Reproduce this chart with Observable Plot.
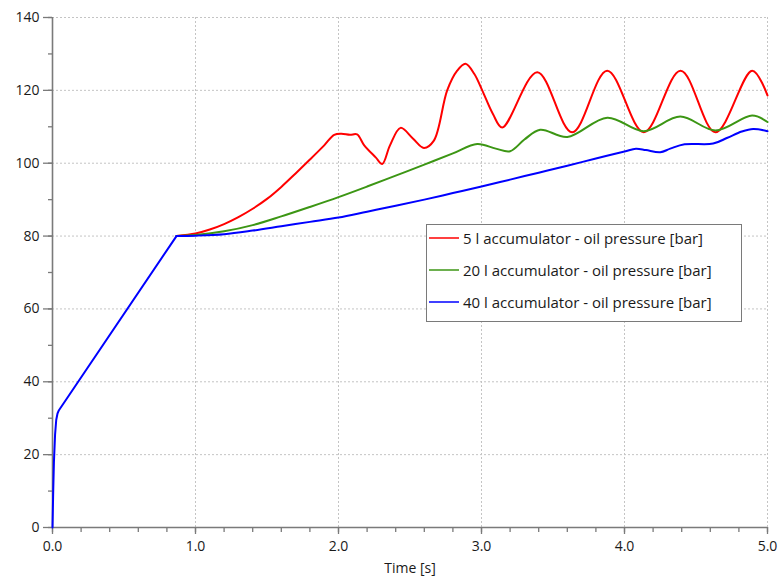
<!DOCTYPE html>
<html>
<head>
<meta charset="utf-8">
<script src="https://cdn.jsdelivr.net/npm/d3@7"></script>
<script src="https://cdn.jsdelivr.net/npm/@observablehq/plot@0.6"></script>
<style>
  html, body { margin: 0; padding: 0; background: #fff; }
  #wrap { position: relative; width: 778px; height: 582px; font-family: "Open Sans", sans-serif; }
  #legend { position: absolute; left: 426px; top: 224px; width: 316px; height: 98px; border: 1px solid #7a7a7a; background: #fff; box-sizing: border-box; }
  .item { position: absolute; left: 0; height: 22px; display: flex; align-items: center; font-size: 15px; color: #1a1a1a; white-space: nowrap; }
  .item svg { margin-left: 2px; margin-right: 4px; }
</style>
</head>
<body>
<div id="wrap"></div>
<script>
// Series labels and colors
const seriesNames = ["5 l accumulator - oil pressure [bar]", "20 l accumulator - oil pressure [bar]", "40 l accumulator - oil pressure [bar]"];
const seriesColors = ["#ff0000", "#3c9614", "#0000ff"];

// Common charging phase (all three accumulators)
const chargeT = [0, 0.005, 0.01, 0.018, 0.026, 0.035, 0.045, 0.867];
const chargeV = [0, 10, 18, 25.5, 29.5, 31.3, 32.2, 80];

// 5 l accumulator (after charging)
const redT = [0.867, 1.0, 1.1, 1.2, 1.3, 1.4, 1.5, 1.6, 1.7, 1.8, 1.9, 1.97, 2.02, 2.08, 2.13, 2.18, 2.26, 2.306, 2.36, 2.434, 2.52, 2.597, 2.667, 2.76, 2.83, 2.888, 2.95, 3.005, 3.08, 3.145, 3.39, 3.634, 3.879, 4.135, 4.392, 4.636, 4.893, 5.0];
const redV = [80, 80.7, 81.8, 83.3, 85.2, 87.5, 90.2, 93.5, 97.2, 101.0, 104.9, 107.8, 108.1, 107.8, 107.9, 104.9, 101.6, 99.8, 104.9, 109.7, 106.8, 104.2, 106.2, 120, 125.4, 127.3, 124.5, 120, 113.5, 109.8, 125.0, 108.5, 125.4, 108.5, 125.4, 108.5, 125.4, 118.6];

// 20 l accumulator (after charging)
const greenT = [0.867, 1.0, 1.2, 1.4, 1.6, 1.8, 2.0, 2.2, 2.4, 2.6, 2.8, 2.97, 3.1, 3.2, 3.3, 3.41, 3.6, 3.88, 4.135, 4.39, 4.636, 4.893, 5.0];
const greenV = [80, 80.3, 81.3, 83.0, 85.4, 88.0, 90.7, 93.6, 96.6, 99.6, 102.7, 105.3, 104.0, 103.3, 106.5, 109.2, 107.2, 112.5, 108.8, 112.8, 109.0, 113.1, 111.3];

// 40 l accumulator (after charging)
const blueT = [0.867, 1.0, 1.2, 1.4, 1.6, 1.8, 2.0, 2.2, 2.4, 2.6, 2.8, 3.0, 3.2, 3.4, 3.6, 3.8, 4.0, 4.08, 4.15, 4.25, 4.32, 4.42, 4.62, 4.72, 4.82, 4.9, 5.0];
const blueV = [80, 80.1, 80.5, 81.5, 82.7, 83.9, 85.1, 86.7, 88.3, 90.0, 91.8, 93.6, 95.5, 97.4, 99.3, 101.3, 103.2, 104.0, 103.6, 103.0, 104.0, 105.2, 105.4, 107.0, 108.7, 109.4, 108.8];

// Axis ticks
const xTicks = [0, 1, 2, 3, 4, 5];
const xMinorTicks = d3.range(0, 5.0001, 0.2).map(d => +d.toFixed(1));
const yTicks = [0, 20, 40, 60, 80, 100, 120, 140];
const yMinorTicks = d3.range(0, 141, 10);

const mk = (T, V) => T.map((t, i) => ({t, v: V[i]}));
const charge = mk(chargeT, chargeV);
const series = [mk(redT, redV), mk(greenT, greenV), mk(blueT, blueV)];

const axisColor = "#7a7a7a";
const chart = Plot.plot({
  width: 778,
  height: 582,
  marginLeft: 52,
  marginRight: 11,
  marginTop: 17,
  marginBottom: 55,
  style: {fontFamily: "'Open Sans', sans-serif", fontSize: "14px", color: "#1a1a1a", background: "white"},
  x: {domain: [0, 5]},
  y: {domain: [0, 140]},
  marks: [
    Plot.gridX(xTicks, {stroke: "#c4c4c4", strokeOpacity: 1, strokeDasharray: "2,2"}),
    Plot.gridY(yTicks, {stroke: "#c4c4c4", strokeOpacity: 1, strokeDasharray: "2,2"}),
    Plot.axisX(xMinorTicks, {tickSize: 5, text: null, stroke: axisColor, strokeWidth: 1.3, label: null}),
    Plot.axisY(yMinorTicks, {tickSize: 4, text: null, stroke: axisColor, strokeWidth: 1.3, label: null}),
    Plot.axisX(xTicks, {tickSize: 7, tickPadding: 7, tickFormat: d3.format(".1f"), stroke: axisColor, strokeWidth: 1.3, fill: "#1a1a1a", label: null}),
    Plot.axisY(yTicks, {tickSize: 9, tickPadding: 4, stroke: axisColor, strokeWidth: 1.3, fill: "#1a1a1a", label: null}),
    Plot.ruleX([0], {stroke: axisColor, strokeWidth: 1.6}),
    Plot.ruleY([0], {stroke: axisColor, strokeWidth: 1.6}),
    ...series.map((s, i) => Plot.line(s, {x: "t", y: "v", stroke: seriesColors[i], strokeWidth: 2, curve: "catmull-rom"})),
    Plot.line(charge, {x: "t", y: "v", stroke: seriesColors[2], strokeWidth: 2, curve: "linear"}),
    Plot.text(["Time [s]"], {frameAnchor: "bottom", dy: 45, fill: "#1a1a1a"})
  ]
});
const wrap = document.getElementById("wrap");
wrap.appendChild(chart);

// Legend overlay
const legend = document.createElement("div");
legend.id = "legend";
const rowTops = [2, 34, 66];
seriesNames.forEach((name, i) => {
  const item = document.createElement("div");
  item.className = "item";
  item.style.top = rowTops[i] + "px";
  item.innerHTML = `<svg width="30" height="4"><line x1="0" x2="30" y1="2" y2="2" stroke="${seriesColors[i]}" stroke-width="1.5"/></svg><span>${name}</span>`;
  legend.appendChild(item);
});
wrap.appendChild(legend);
</script>
</body>
</html>
